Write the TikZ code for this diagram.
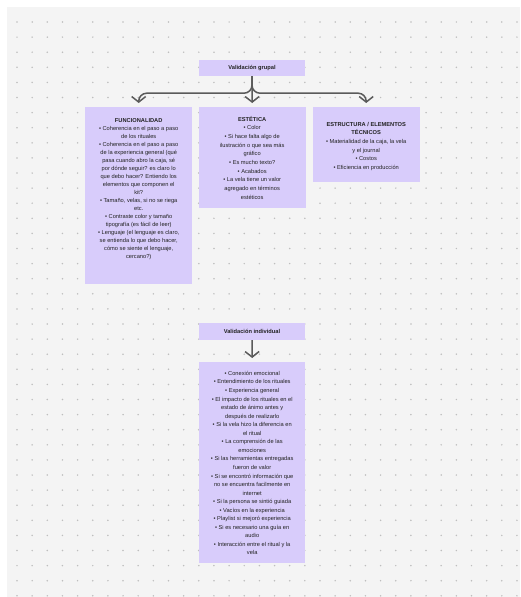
\documentclass[tikz,border=0pt]{standalone}
\usepackage{fontspec}
\setmainfont{Liberation Sans}
\usetikzlibrary{arrows.meta,calc}
\definecolor{bgc}{HTML}{F4F4F4}
\definecolor{dotc}{HTML}{BEBEBE}
\definecolor{boxc}{HTML}{D8CCFB}
\definecolor{linec}{HTML}{5A5A5A}
\definecolor{txtc}{HTML}{222222}
\tikzset{
  card/.style={fill=boxc, draw=none, inner sep=0pt, anchor=north west},
  headbox/.style={fill=boxc, draw=none, inner sep=0pt, minimum width=106pt, text=txtc,
    font=\fontsize{5.7}{8.4}\selectfont\bfseries},
  txtblock/.style={align=center, text=txtc, inner sep=0pt, anchor=north},
  conn/.style={draw=linec, line width=1.5pt, -{Straight Barb[length=5.5pt,width=14pt]}, rounded corners=8pt},
}
\begin{document}
\begin{tikzpicture}[x=1pt,y=-1pt]
\useasboundingbox (0,0) rectangle (520,597);
\fill[white] (0,0) rectangle (520,597);
\fill[bgc] (7,7) rectangle (520,597);
\foreach \i in {0,...,33}{
  \foreach \j in {0,...,38}{
    \fill[dotc] ({17+15.15*\i},{22+15.1*\j}) circle (0.85);
  }
}
% header boxes
\node[headbox, minimum height=16pt] (hg) at (252,68) {Validación grupal};
\node[headbox, minimum height=17pt] (hi) at (252,331.5) {Validación individual};
% cards
\node[card, minimum width=107pt, minimum height=177pt] (fun) at (85,107) {};
\node[card, minimum width=107pt, minimum height=101pt] (est) at (198.5,107) {};
\node[card, minimum width=107pt, minimum height=75pt] (tec) at (312.5,107) {};
\node[card, minimum width=106pt, minimum height=201pt] (ind) at (199,362) {};
% texts
\node[txtblock, font=\fontsize{5.7}{8.0}\selectfont] (funT) at (fun.north |- 0,118) {\textbf{FUNCIONALIDAD}\\
• Coherencia en el paso a paso\\
de los rituales\\
• Coherencia en el paso a paso\\
de la experiencia general (qué\\
pasa cuando abro la caja, sé\\
por dónde seguir? es claro lo\\
que debo hacer? Entiendo los\\
elementos que componen el\\
kit?\\
• Tamaño, velas, si no se riega\\
etc.\\
• Contraste color y tamaño\\
tipografía (es fácil de leer)\\
• Lenguaje (el lenguaje es claro,\\
se entienda lo que debo hacer,\\
cómo se siente el lenguaje,\\
cercano?)};
\node[txtblock, font=\fontsize{5.7}{8.65}\selectfont] (estT) at (est.north |- 0,116) {\textbf{ESTÉTICA}\\
• Color\\
• Si hace falta algo de\\
ilustración o que sea más\\
gráfico\\
• Es mucho texto?\\
• Acabados\\
• La vela tiene un valor\\
agregado en términos\\
estéticos};
\node[txtblock, font=\fontsize{5.7}{8.6}\selectfont] (tecT) at (tec.north |- 0,122) {\textbf{ESTRUCTURA / ELEMENTOS}\\
\textbf{TÉCNICOS}\\
• Materialidad de la caja, la vela\\
y el journal\\
• Costos\\
• Eficiencia en producción};
\node[txtblock, font=\fontsize{5.7}{8.55}\selectfont] (indT) at (ind.north |- 0,371) {• Conexión emocional\\
• Entendimiento de los rituales\\
• Experiencia general\\
• El impacto de los rituales en el\\
estado de ánimo antes y\\
después de realizarlo\\
• Si la vela hizo la diferencia en\\
el ritual\\
• La comprensión de las\\
emociones\\
• Si las herramientas entregadas\\
fueron de valor\\
• Si se encontró información que\\
no se encuentra facilmente en\\
internet\\
• Si la persona se sintió guiada\\
• Vacíos en la experiencia\\
• Playlist si mejoró experiencia\\
• Si es necesario una guía en\\
audio\\
• Interacción entre el ritual y la\\
vela};
% connectors
\draw[conn] (hg.south) -- ++(0,17) -| ($(fun.north)+(0,-4)$);
\draw[conn] (hg.south) -- ++(0,17) -| ($(tec.north)+(0,-4)$);
\draw[conn] (hg.south) -- ($(est.north)+(0,-4)$);
\draw[conn] (hi.south) -- ($(ind.north)+(0,-4)$);
\end{tikzpicture}
\end{document}
